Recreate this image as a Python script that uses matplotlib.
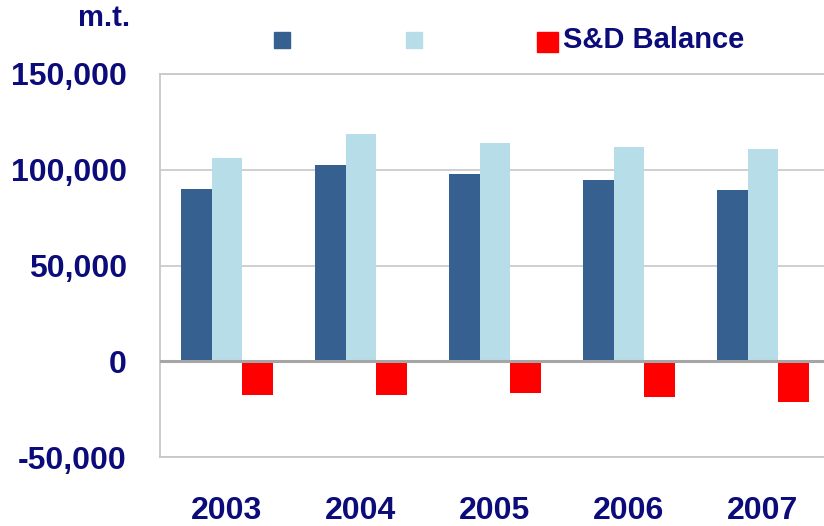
import numpy as np
import matplotlib
matplotlib.use('Agg')
import matplotlib.pyplot as plt
from matplotlib.patches import Rectangle
from matplotlib.ticker import FuncFormatter

# Datos (toneladas metricas)
years = ['2003', '2004', '2005', '2006', '2007']
supply = [89700, 102300, 98000, 94400, 89600]
demand = [105900, 118500, 113800, 111700, 110700]
balance = [-17500, -17500, -16400, -18500, -21200]

navy = '#0B0B7A'
c_dark = '#36608F'
c_light = '#B7DDE8'
c_red = '#FF0000'

plt.rcParams['font.family'] = ['Liberation Sans', 'DejaVu Sans']
plt.rcParams['font.weight'] = 'bold'

fig = plt.figure(figsize=(8.24, 5.26), dpi=100)
ax = fig.add_axes([160 / 824, 69 / 526, 670 / 824, 383 / 526])

x = np.arange(len(years))
w = 0.228
ax.bar(x - w, supply, w, color=c_dark, zorder=3)
ax.bar(x, demand, w, color=c_light, zorder=3)
ax.bar(x + w, balance, w, color=c_red, zorder=3)

ax.set_xlim(-0.5, len(years) - 0.5)
ax.set_ylim(-50000, 150000)
ax.set_yticks([-50000, 0, 50000, 100000, 150000])
ax.yaxis.set_major_formatter(FuncFormatter(lambda v, p: f'{int(v):,}'))
ax.set_xticks(x)
ax.set_xticklabels(years)

ax.grid(axis='y', color='#CCCCCC', linewidth=1.3, zorder=0)
ax.axhline(0, color='#A6A6A6', linewidth=2.2, zorder=4)
for s in ['left', 'top', 'bottom']:
    ax.spines[s].set_color('#C8C8C8')
    ax.spines[s].set_linewidth(1.3)
ax.spines['right'].set_visible(False)

ax.tick_params(axis='y', length=0, pad=24, labelsize=23, labelcolor=navy)
ax.tick_params(axis='x', length=0, pad=28, labelsize=23, labelcolor=navy)

# unidad
fig.text(130 / 824, 1 - 18 / 526, 'm.t.', ha='right', va='center',
         fontsize=21, fontweight='bold', color=navy)

# leyenda manual
fig.patches.append(Rectangle((274 / 824, 1 - 48 / 526), 16 / 824, 16 / 526,
                             transform=fig.transFigure, color=c_dark))
fig.patches.append(Rectangle((406 / 824, 1 - 48 / 526), 16 / 824, 16 / 526,
                             transform=fig.transFigure, color=c_light))
fig.patches.append(Rectangle((537 / 824, 1 - 52 / 526), 21 / 824, 20 / 526,
                             transform=fig.transFigure, color=c_red))
fig.text(563 / 824, 1 - 40 / 526, 'S&D Balance', ha='left', va='center',
         fontsize=21, fontweight='bold', color=navy)

fig.savefig('out.png', dpi=100)
